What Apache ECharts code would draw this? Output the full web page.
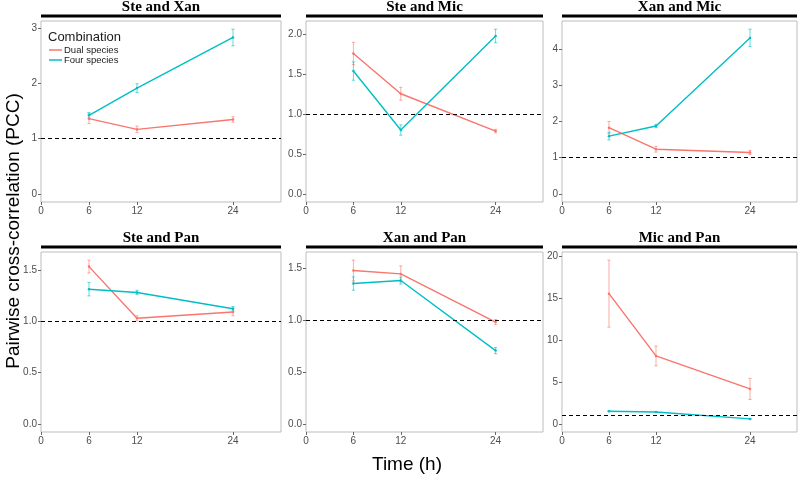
<!DOCTYPE html>
<html>
<head>
<meta charset="utf-8">
<script src="https://cdn.jsdelivr.net/npm/echarts@6/dist/echarts.min.js"></script>
<style>html,body{margin:0;padding:0;background:#fff}#c{width:798px;height:478px}</style>
</head>
<body>
<div id="c"></div>
<script>
// ---- data ----
var times = [6, 12, 24];
var xTicks = [0, 6, 12, 24];
var panels = ['Ste and Xan', 'Ste and Mic', 'Xan and Mic', 'Ste and Pan', 'Xan and Pan', 'Mic and Pan'];
var seriesNames = ['Dual species', 'Four species'];
var dualMean = [[1.365, 1.17, 1.35], [1.76, 1.255, 0.787], [1.825, 1.23, 1.14], [1.539, 1.033, 1.095], [1.475, 1.443, 0.979], [15.55, 8.11, 4.17]];
var dualErr  = [[0.09, 0.06, 0.05], [0.14, 0.08, 0.022], [0.17, 0.08, 0.055], [0.063, 0.025, 0.037], [0.10, 0.077, 0.025], [4.0, 1.18, 1.26]];
var fourMean = [[1.425, 1.92, 2.84], [1.54, 0.80, 1.98], [1.59, 1.87, 4.30], [1.318, 1.286, 1.127], [1.35, 1.379, 0.705], [1.50, 1.42, 0.59]];
var fourErr  = [[0.05, 0.08, 0.15], [0.115, 0.065, 0.085], [0.105, 0.045, 0.24], [0.066, 0.021, 0.021], [0.064, 0.034, 0.03], [0.06, 0.05, 0.05]];
var yTicks = [[0, 1, 2, 3], [0, 0.5, 1, 1.5, 2], [0, 1, 2, 3, 4], [0, 0.5, 1, 1.5], [0, 0.5, 1, 1.5], [0, 5, 10, 15, 20]];
var yDecimals = [0, 1, 0, 1, 1, 0];
var refLine = 1;

// ---- layout ----
var colors = ['#F8766D', '#00BFC4'];
var colLeft = [41, 306, 562];
var colWidth = [240, 237, 235];
var rowTop = [21, 252];
var rowHeight = [181, 180];

var grids = [], xAxes = [], yAxes = [], series = [], titles = [], graphics = [];

function errRender(color) {
  return function (params, api) {
    var x = api.value(0), lo = api.value(1), hi = api.value(2);
    var a = api.coord([x, lo]), b = api.coord([x, hi]);
    var w = 1.6;
    var st = { stroke: color, lineWidth: 1, opacity: 0.6 };
    return { type: 'group', children: [
      { type: 'line', shape: { x1: a[0], y1: a[1], x2: b[0], y2: b[1] }, style: st },
      { type: 'line', shape: { x1: a[0] - w, y1: a[1], x2: a[0] + w, y2: a[1] }, style: st },
      { type: 'line', shape: { x1: b[0] - w, y1: b[1], x2: b[0] + w, y2: b[1] }, style: st }
    ] };
  };
}

for (var i = 0; i < panels.length; i++) {
  var r = Math.floor(i / 3), c = i % 3;
  var L = colLeft[c], T = rowTop[r], W = colWidth[c], H = rowHeight[r];
  grids.push({ left: L, top: T, width: W, height: H, show: true, borderColor: '#bdbdbd', borderWidth: 1, backgroundColor: 'transparent' });
  var ymax = 0;
  for (var k = 0; k < 3; k++) {
    ymax = Math.max(ymax, dualMean[i][k] + dualErr[i][k], fourMean[i][k] + fourErr[i][k]);
  }
  var dec = yDecimals[i];
  xAxes.push({
    type: 'value', gridIndex: i, min: 0, max: 30,
    axisLine: { show: false, onZero: false },
    splitLine: { show: false },
    axisTick: { show: true, length: 3, lineStyle: { color: '#666' }, customValues: xTicks },
    axisLabel: { customValues: xTicks, fontSize: 10, color: '#4d4d4d', margin: 4, fontFamily: 'Liberation Sans' }
  });
  yAxes.push({
    type: 'value', gridIndex: i, min: -0.05 * ymax, max: 1.05 * ymax,
    axisLine: { show: false, onZero: false },
    splitLine: { show: false },
    axisTick: { show: true, length: 3, lineStyle: { color: '#666' }, customValues: yTicks[i] },
    axisLabel: { customValues: yTicks[i], fontSize: 10, color: '#4d4d4d', margin: 4, fontFamily: 'Liberation Sans',
      formatter: (function (d) { return function (v) { return v.toFixed(d); }; })(dec) }
  });
  var means = [dualMean[i], fourMean[i]];
  var errs = [dualErr[i], fourErr[i]];
  for (var s = 0; s < 2; s++) {
    var lineData = [], errData = [];
    for (var k = 0; k < times.length; k++) {
      lineData.push([times[k], means[s][k]]);
      errData.push([times[k], means[s][k] - errs[s][k], means[s][k] + errs[s][k]]);
    }
    var ls = {
      type: 'line', name: seriesNames[s], xAxisIndex: i, yAxisIndex: i, data: lineData,
      symbol: 'circle', symbolSize: 2.5, showSymbol: true,
      itemStyle: { color: colors[s] }, lineStyle: { color: colors[s], width: 1.4 },
      silent: true, animation: false, z: 3
    };
    if (s === 0) {
      ls.markLine = {
        silent: true, symbol: 'none', label: { show: false },
        lineStyle: { color: '#000', type: [4, 3], width: 1 },
        data: [{ yAxis: refLine }]
      };
    }
    series.push(ls);
    series.push({
      type: 'custom', name: seriesNames[s] + ' err', xAxisIndex: i, yAxisIndex: i,
      renderItem: errRender(colors[s]), data: errData, encode: { x: 0, y: [1, 2] },
      silent: true, animation: false, z: 2
    });
  }
  // strip
  graphics.push({ type: 'rect', shape: { x: L, y: T - 6.5, width: W, height: 3 }, style: { fill: '#000' } });
  titles.push({
    text: panels[i], left: L + W / 2, top: T - 21, textAlign: 'center', padding: 0,
    textStyle: { fontFamily: 'Liberation Serif', fontWeight: 'bold', fontSize: 15, color: '#000' }
  });
}

// legend title
graphics.push({ type: 'text', left: 48, top: 31, style: { text: 'Combination', fontSize: 13, fontFamily: 'Liberation Sans', fill: '#1a1a1a' } });
// axis titles
graphics.push({ type: 'text', x: 14, y: 231, rotation: Math.PI / 2, style: { text: 'Pairwise cross-correlation (PCC)', fontSize: 19, fontFamily: 'Liberation Sans', fill: '#000', align: 'center', verticalAlign: 'middle' } });
graphics.push({ type: 'text', x: 407, y: 465, style: { text: 'Time (h)', fontSize: 19, fontFamily: 'Liberation Sans', fill: '#000', align: 'center', verticalAlign: 'middle' } });

var chart = echarts.init(document.getElementById('c'), null, { renderer: 'canvas' });
chart.setOption({
  animation: false,
  backgroundColor: '#fff',
  title: titles,
  grid: grids,
  xAxis: xAxes,
  yAxis: yAxes,
  legend: {
    data: seriesNames, orient: 'vertical', left: 49, top: 45,
    icon: 'rect', itemWidth: 13, itemHeight: 1.5, itemGap: 0,
    textStyle: { fontSize: 9.5, fontFamily: 'Liberation Sans', color: '#1a1a1a', lineHeight: 9, padding: [0, 0, 0, -3] },
    selectedMode: false, padding: 0
  },
  graphic: graphics,
  series: series
});
</script>
</body>
</html>
